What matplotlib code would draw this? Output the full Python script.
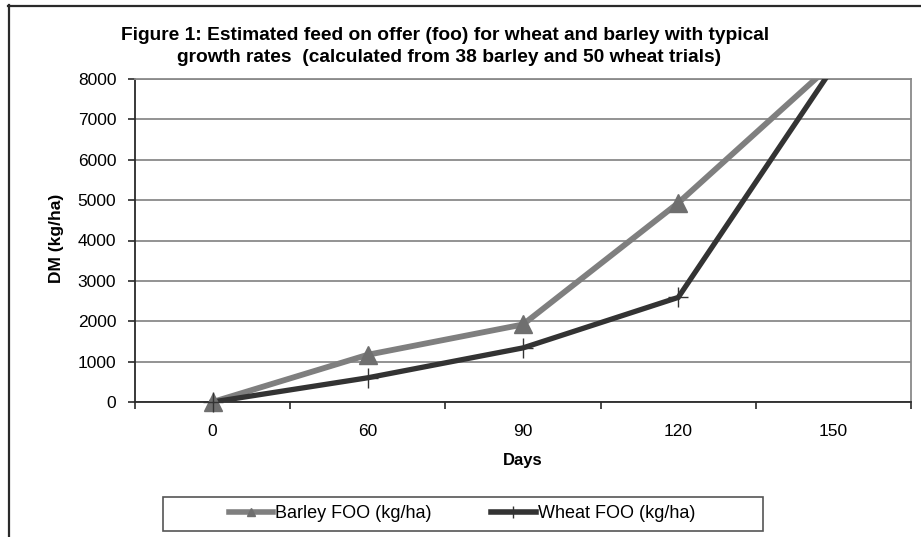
import matplotlib
matplotlib.use("Agg")
import matplotlib.pyplot as plt
from matplotlib.lines import Line2D
from matplotlib.patches import Rectangle
import numpy as np

plt.rcParams['font.family'] = ['Liberation Sans', 'DejaVu Sans']

days = ["0", "60", "90", "120", "150"]
barley_foo = [0, 1170, 1920, 4930, 8400]
wheat_foo = [0, 600, 1340, 2590, 8300]
y_ticks = [0, 1000, 2000, 3000, 4000, 5000, 6000, 7000, 8000]

W, H = 921, 537
fig = plt.figure(figsize=(W / 100, H / 100), dpi=100)
fig.patch.set_facecolor('white')

def fx(px):
    return px / W

def fy(py):
    return 1 - py / H

# outer chart border (extends past the right and bottom edges)
fig.add_artist(Line2D([fx(8), 1.0], [fy(5.5), fy(5.5)], color='#2a2a2a', lw=1.6))
fig.add_artist(Line2D([fx(8.5), fx(8.5)], [fy(5), 0.0], color='#2a2a2a', lw=1.6))

left, right, top, bottom = 135, 911, 79, 402
ax = fig.add_axes([fx(left), fy(bottom), fx(right) - fx(left), fy(top) - fy(bottom)])

x = np.arange(len(days))
ax.set_xlim(-0.5, len(days) - 0.5)
ax.set_ylim(0, 8000)

# gridlines
ax.set_yticks(y_ticks)
ax.yaxis.grid(True, color='#8a8a8a', lw=1.3)
ax.set_axisbelow(True)

barley_color = '#7f7f7f'
wheat_color = '#333333'

ax.plot(x, barley_foo, color=barley_color, lw=4.2, solid_joinstyle='miter', zorder=3)
ax.plot(x, wheat_foo, color=wheat_color, lw=3.8, solid_joinstyle='miter', zorder=4)

# markers for points inside the value range, drawn over the axes frame
ymax = ax.get_ylim()[1]
bx = [xi for xi, v in zip(x, barley_foo) if v <= ymax]
bv = [v for v in barley_foo if v <= ymax]
wx = [xi for xi, v in zip(x, wheat_foo) if v <= ymax]
wv = [v for v in wheat_foo if v <= ymax]
ax.plot(bx, bv, ls='none', marker='^', ms=13, color='#6f6f6f', mec='#6f6f6f',
        clip_on=False, zorder=6)
ax.plot(wx, wv, ls='none', marker='+', ms=14, mew=1.0, color=wheat_color,
        clip_on=False, zorder=7)

# axes styling
for side in ['top', 'right']:
    ax.spines[side].set_color('#8a8a8a')
    ax.spines[side].set_linewidth(1.3)
for side in ['left', 'bottom']:
    ax.spines[side].set_color('#2a2a2a')
    ax.spines[side].set_linewidth(1.3)

ax.set_yticklabels([str(v) for v in y_ticks], fontsize=12.5)
ax.tick_params(axis='y', direction='out', length=5, width=1.2, color='#2a2a2a', pad=8.5)

# category labels at centres, tick marks at category boundaries
ax.set_xticks(x)
ax.set_xticklabels(days, fontsize=12.5)
ax.tick_params(axis='x', which='major', length=0, pad=16)
ax.set_xticks(np.arange(-0.5, len(days)), minor=True)
ax.tick_params(axis='x', which='minor', direction='out', length=5, width=1.2, color='#2a2a2a')

ax.set_xlabel('Days', fontsize=12, fontweight='bold', labelpad=10)
fig.text(fx(57), fy(238), 'DM (kg/ha)', rotation=90, ha='center', va='center',
         fontsize=12.5, fontweight='bold')

fig.text(fx(445), fy(36), 'Figure 1: Estimated feed on offer (foo) for wheat and barley with typical',
         ha='center', va='center', fontsize=13.8, fontweight='bold')
fig.text(fx(449), fy(58), 'growth rates  (calculated from 38 barley and 50 wheat trials)',
         ha='center', va='center', fontsize=13.8, fontweight='bold')

# legend box
fig.add_artist(Rectangle((fx(163), fy(531)), fx(763) - fx(163), fy(497) - fy(531),
                         transform=fig.transFigure, fill=False,
                         edgecolor='#555555', lw=1.2))
handles = [
    Line2D([], [], color=barley_color, lw=4, marker='^', ms=6, mfc='#6f6f6f', mec='#6f6f6f'),
    Line2D([], [], color=wheat_color, lw=4, marker='+', ms=9, mew=1.0),
]
fig.legend(handles, ['Barley FOO (kg/ha)', 'Wheat FOO (kg/ha)'],
           loc='center', bbox_to_anchor=(fx(462), fy(514)), ncol=2,
           fontsize=13, frameon=False, handlelength=2.45,
           handletextpad=0.12, columnspacing=3.3, borderpad=0,
           borderaxespad=0)

fig.savefig('out.png', dpi=100, facecolor='white')
